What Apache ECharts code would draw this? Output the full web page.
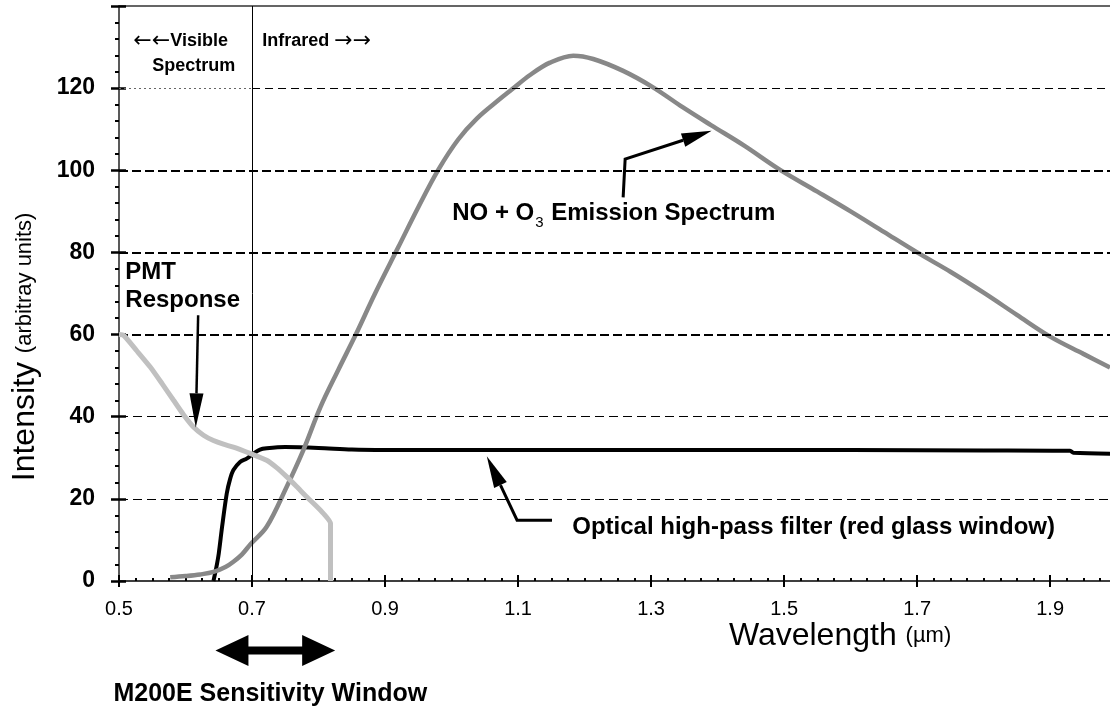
<!DOCTYPE html>
<html>
<head>
<meta charset="utf-8">
<script src="https://cdn.jsdelivr.net/npm/echarts@6/dist/echarts.min.js"></script>
<style>
  html, body { margin: 0; padding: 0; background: #fff; }
  #chart { width: 1110px; height: 711px; }
</style>
</head>
<body>
<div id="chart"></div>
<script>
// NO + O3 chemiluminescence emission spectrum (grey)
const emissionWavelength = [0.577, 0.600, 0.622, 0.642, 0.660, 0.672, 0.685, 0.698, 0.722, 0.752, 0.777, 0.803, 0.830, 0.856,
  0.885, 0.920, 0.950, 0.980, 1.010, 1.038, 1.073, 1.090, 1.118, 1.148, 1.183, 1.213, 1.258, 1.303, 1.348, 1.390, 1.440,
  1.494, 1.550, 1.600, 1.650, 1.700, 1.750, 1.800, 1.850, 1.900, 1.950, 1.990];
const emissionIntensity = [0.9, 1.2, 1.6, 2.2, 3.4, 4.7, 6.5, 9.0, 13.2, 22.9, 31.8, 42.4, 51.5, 60.0,
  70.0, 81.3, 91.0, 100.1, 107.5, 112.6, 117.4, 119.6, 123.2, 126.2, 127.9, 127.1, 124.2, 120.2, 115.3, 111.0, 106.0,
  100.1, 94.8, 90.0, 85.0, 80.0, 75.3, 70.2, 64.8, 59.5, 55.3, 52.0];

// Photomultiplier tube response (light grey)
const pmtWavelength = [0.500, 0.507, 0.527, 0.547, 0.565, 0.582, 0.597, 0.612, 0.627, 0.642, 0.657, 0.672, 0.698,
  0.722, 0.737, 0.752, 0.767, 0.782, 0.795, 0.807, 0.818, 0.818];
const pmtIntensity = [60.0, 59.8, 56.0, 52.1, 48.0, 44.0, 40.5, 37.5, 35.5, 34.2, 33.3, 32.6, 31.0,
  29.4, 27.6, 25.4, 23.0, 20.5, 18.5, 16.5, 14.0, 0.0];

// Optical high-pass filter transmission (black)
const filterWavelength = [0.642, 0.646, 0.650, 0.655, 0.662, 0.667, 0.672, 0.682, 0.692, 0.702, 0.712, 0.722, 0.750,
  0.800, 0.850, 0.900, 1.000, 1.200, 1.400, 1.600, 1.800, 1.930, 1.935, 1.990];
const filterIntensity = [0.0, 3.0, 6.7, 13.2, 21.3, 24.8, 27.0, 29.0, 29.8, 31.0, 32.0, 32.3, 32.6,
  32.4, 32.0, 31.9, 31.9, 31.9, 31.9, 31.9, 31.8, 31.7, 31.2, 31.0];

const xTickLabels = [0.5, 0.7, 0.9, 1.1, 1.3, 1.5, 1.7, 1.9];
const yTickLabels = [0, 20, 40, 60, 80, 100, 120];

const xMin = 0.5, xMax = 1.99, yMin = 0, yMax = 140;
const xMinorStep = 0.025;
const xMinorTicks = [];
for (let k = 0; xMin + k * xMinorStep <= xMax + 1e-9; k++) {
  xMinorTicks.push(+(xMin + k * xMinorStep).toFixed(3));
}

const FONT = '"Liberation Sans", Arial, Helvetica, sans-serif';

function pairs(xs, ys) { return xs.map((x, i) => [x, ys[i]]); }

// Callout arrows, in [wavelength, intensity] coordinates; the last point is the tip
const callouts = [
  { path: [[0.619, 64.7], [0.6154, 37.4]], width: 2.5, head: [34, 14] },
  { path: [[1.258, 93.4], [1.261, 102.7], [1.391, 109.6]], width: 3, head: [30, 14] },
  { path: [[1.151, 14.8], [1.0985, 14.8], [1.053, 30.4]], width: 3, head: [32, 14] }
];

// Wavelength span of the instrument's sensitivity window, drawn under the axis
const sensitivityWindow = { from: 0.645, to: 0.825, level: -16.9 };

// Text annotations: [wavelength, intensity] anchor, left aligned, vertically centred
const notes = [
  { at: [0.5216, 131.5], rich: '{arr|←←}{v|Visible}' },
  { at: [0.550, 125.4], text: 'Spectrum', size: 18 },
  { at: [0.7154, 131.5], rich: '{v|Infrared }{arr|→→}' },
  { at: [0.5095, 75.1], text: 'PMT', size: 24 },
  { at: [0.5095, 68.3], text: 'Response', size: 24 },
  { at: [1.001, 89.5], rich: '{t|NO + O}{s|3}{t| Emission Spectrum}' },
  { at: [1.1815, 13.1], text: 'Optical high-pass filter (red glass window)', size: 24 },
  { at: [0.4916, -27.5], text: 'M200E Sensitivity Window', size: 25 },
  { at: [1.417, -13.4], rich: '{a|Wavelength }{b|(µm)}' },
  { at: [0.359, 57.0], rich: '{a|Intensity }{b|(arbitray units)}', rotate: true }
];

const richStyles = {
  arr: { fontFamily: '"DejaVu Sans", sans-serif', fontSize: 22, fontWeight: 'normal', color: '#000', lineHeight: 24 },
  v: { fontFamily: FONT, fontSize: 18, fontWeight: 'bold', color: '#000', lineHeight: 24 },
  t: { fontFamily: FONT, fontSize: 24, fontWeight: 'bold', color: '#000', lineHeight: 28 },
  s: { fontFamily: FONT, fontSize: 15, fontWeight: 'normal', color: '#222', verticalAlign: 'bottom', lineHeight: 20, padding: [0, 1, -3, 1] },
  a: { fontFamily: FONT, fontSize: 32, fontWeight: 'normal', color: '#000', lineHeight: 36 },
  b: { fontFamily: FONT, fontSize: 22, fontWeight: 'normal', color: '#000', lineHeight: 36 }
};

// Horizontal reference lines
function hLine(v, from, style) {
  return [{ coord: [from, v], lineStyle: style }, { coord: [xMax, v] }];
}
const thinDash = { type: [9, 5], width: 1, color: '#000' };
const boldDash = { type: [9, 4], width: 2, color: '#000' };
const gridLines = [
  hLine(20, xMin, thinDash),
  hLine(40, xMin, thinDash),
  hLine(60, xMin, boldDash),
  hLine(80, xMin, boldDash),
  hLine(100, xMin, boldDash),
  [{ coord: [xMin, 120], lineStyle: { type: [2, 3], width: 1, color: '#666' } }, { coord: [0.7, 120] }],
  hLine(120, 0.7, { type: [8, 5], width: 1, color: '#000' }),
  [{ coord: [0.7, yMin], lineStyle: { type: 'solid', width: 1, color: '#000' } }, { coord: [0.7, yMax] }]
];

function arrowHead(tip, prev, len, w) {
  const dx = tip[0] - prev[0], dy = tip[1] - prev[1];
  const d = Math.hypot(dx, dy) || 1;
  const ux = dx / d, uy = dy / d;
  const bx = tip[0] - ux * len, by = tip[1] - uy * len;
  const px = -uy * w / 2, py = ux * w / 2;
  return { base: [bx, by], poly: [tip, [bx + px, by + py], [bx - px, by - py]] };
}

const chart = echarts.init(document.getElementById('chart'), null, { renderer: 'canvas' });

const baseX = { type: 'value', min: xMin, max: xMax, gridIndex: 0 };

chart.setOption({
  animation: false,
  backgroundColor: '#fff',
  grid: { left: 119, right: 0, top: 6, bottom: 130, containLabel: false },
  xAxis: [
    Object.assign({}, baseX, {
      position: 'bottom',
      interval: xMinorStep,
      axisLine: { show: true, onZero: false, lineStyle: { color: '#000', width: 1.5 } },
      axisTick: { show: true, customValues: xTickLabels, length: 6, lineStyle: { color: '#000', width: 2 } },
      axisLabel: {
        show: true, customValues: xTickLabels, margin: 18,
        formatter: v => Number(v).toFixed(1),
        fontFamily: FONT, fontSize: 20, color: '#000'
      },
      splitLine: { show: false }
    }),
    Object.assign({}, baseX, {
      position: 'bottom', interval: xMinorStep,
      axisLine: { show: false },
      axisTick: { show: true, inside: true, customValues: xTickLabels, length: 6, lineStyle: { color: '#000', width: 2 } },
      axisLabel: { show: false }, splitLine: { show: false }
    }),
    Object.assign({}, baseX, {
      position: 'bottom', interval: xMinorStep,
      axisLine: { show: false },
      axisTick: { show: true, inside: true, customValues: xMinorTicks, length: 3, lineStyle: { color: '#000', width: 2 } },
      axisLabel: { show: false }, splitLine: { show: false }
    }),
    Object.assign({}, baseX, {
      position: 'top', interval: xMinorStep,
      axisLine: { show: true, onZero: false, lineStyle: { color: '#333', width: 1.5 } },
      axisTick: { show: false }, axisLabel: { show: false }, splitLine: { show: false }
    })
  ],
  yAxis: [
    {
      type: 'value', min: yMin, max: yMax, interval: 20, position: 'left',
      axisLine: { show: true, onZero: false, lineStyle: { color: '#222', width: 1.5 } },
      axisTick: { show: true, length: 8, lineStyle: { color: '#000', width: 2.5 } },
      minorTick: { show: true, splitNumber: 5, length: 4, lineStyle: { color: '#000', width: 2 } },
      axisLabel: {
        margin: 24, fontFamily: FONT, fontSize: 23, fontWeight: 'bold', color: '#000',
        formatter: v => (yTickLabels.indexOf(v) >= 0 ? String(v) : '')
      },
      splitLine: { show: false }
    },
    {
      type: 'value', min: yMin, max: yMax, interval: 20, position: 'left',
      axisLine: { show: false },
      axisTick: { show: true, inside: true, length: 7, lineStyle: { color: '#000', width: 2.5 } },
      axisLabel: { show: false }, splitLine: { show: false }
    }
  ],
  series: [
    {
      name: 'reference lines', type: 'line', data: [], silent: true, z: 1,
      markLine: { silent: true, symbol: ['none', 'none'], label: { show: false }, animation: false, data: gridLines }
    },
    {
      name: 'Optical high-pass filter', type: 'line', data: pairs(filterWavelength, filterIntensity),
      showSymbol: false, smooth: 0.3, z: 3,
      lineStyle: { color: '#000', width: 4 }
    },
    {
      name: 'NO + O3 Emission Spectrum', type: 'line', data: pairs(emissionWavelength, emissionIntensity),
      showSymbol: false, smooth: 0.35, z: 4,
      lineStyle: { color: '#888888', width: 4.5 }
    },
    {
      name: 'PMT Response', type: 'line', data: pairs(pmtWavelength, pmtIntensity),
      showSymbol: false, smooth: 0.2, z: 5,
      lineStyle: { color: '#c0c0c0', width: 5 }
    },
    {
      name: 'callouts', type: 'custom', z: 6, silent: true, clip: false,
      data: callouts.map(c => c.path[0]),
      renderItem: (params, api) => {
        const c = callouts[params.dataIndex];
        const pts = c.path.map(p => api.coord(p));
        const tip = pts[pts.length - 1];
        const head = arrowHead(tip, pts[pts.length - 2], c.head[0], c.head[1]);
        const shaft = pts.slice(0, -1).concat([head.base]);
        return {
          type: 'group',
          children: [
            { type: 'polyline', shape: { points: shaft }, style: { stroke: '#000', lineWidth: c.width, fill: null } },
            { type: 'polygon', shape: { points: head.poly }, style: { fill: '#000' } }
          ]
        };
      }
    },
    {
      name: 'sensitivity window', type: 'custom', z: 6, silent: true, clip: false,
      data: [[sensitivityWindow.from, sensitivityWindow.level]],
      renderItem: (params, api) => {
        const a = api.coord([sensitivityWindow.from, sensitivityWindow.level]);
        const b = api.coord([sensitivityWindow.to, sensitivityWindow.level]);
        const hl = 33, hh = 31, sh = 8, y = a[1];
        return {
          type: 'polygon',
          shape: {
            points: [
              [a[0], y], [a[0] + hl, y - hh / 2], [a[0] + hl, y - sh / 2], [b[0] - hl, y - sh / 2],
              [b[0] - hl, y - hh / 2], [b[0], y], [b[0] - hl, y + hh / 2], [b[0] - hl, y + sh / 2],
              [a[0] + hl, y + sh / 2], [a[0] + hl, y + hh / 2]
            ]
          },
          style: { fill: '#000' }
        };
      }
    },
    {
      name: 'notes', type: 'custom', z: 7, silent: true, clip: false,
      data: notes.map(n => n.at),
      renderItem: (params, api) => {
        const n = notes[params.dataIndex];
        const p = api.coord(n.at);
        const style = n.rich
          ? { text: n.rich, rich: richStyles, align: n.rotate ? 'center' : 'left', verticalAlign: 'middle' }
          : {
              text: n.text, fontFamily: FONT, fontSize: n.size, fontWeight: 'bold', fill: '#000',
              align: 'left', verticalAlign: 'middle'
            };
        return { type: 'text', x: p[0], y: p[1], rotation: n.rotate ? Math.PI / 2 : 0, style: style };
      }
    }
  ]
});
</script>
</body>
</html>
